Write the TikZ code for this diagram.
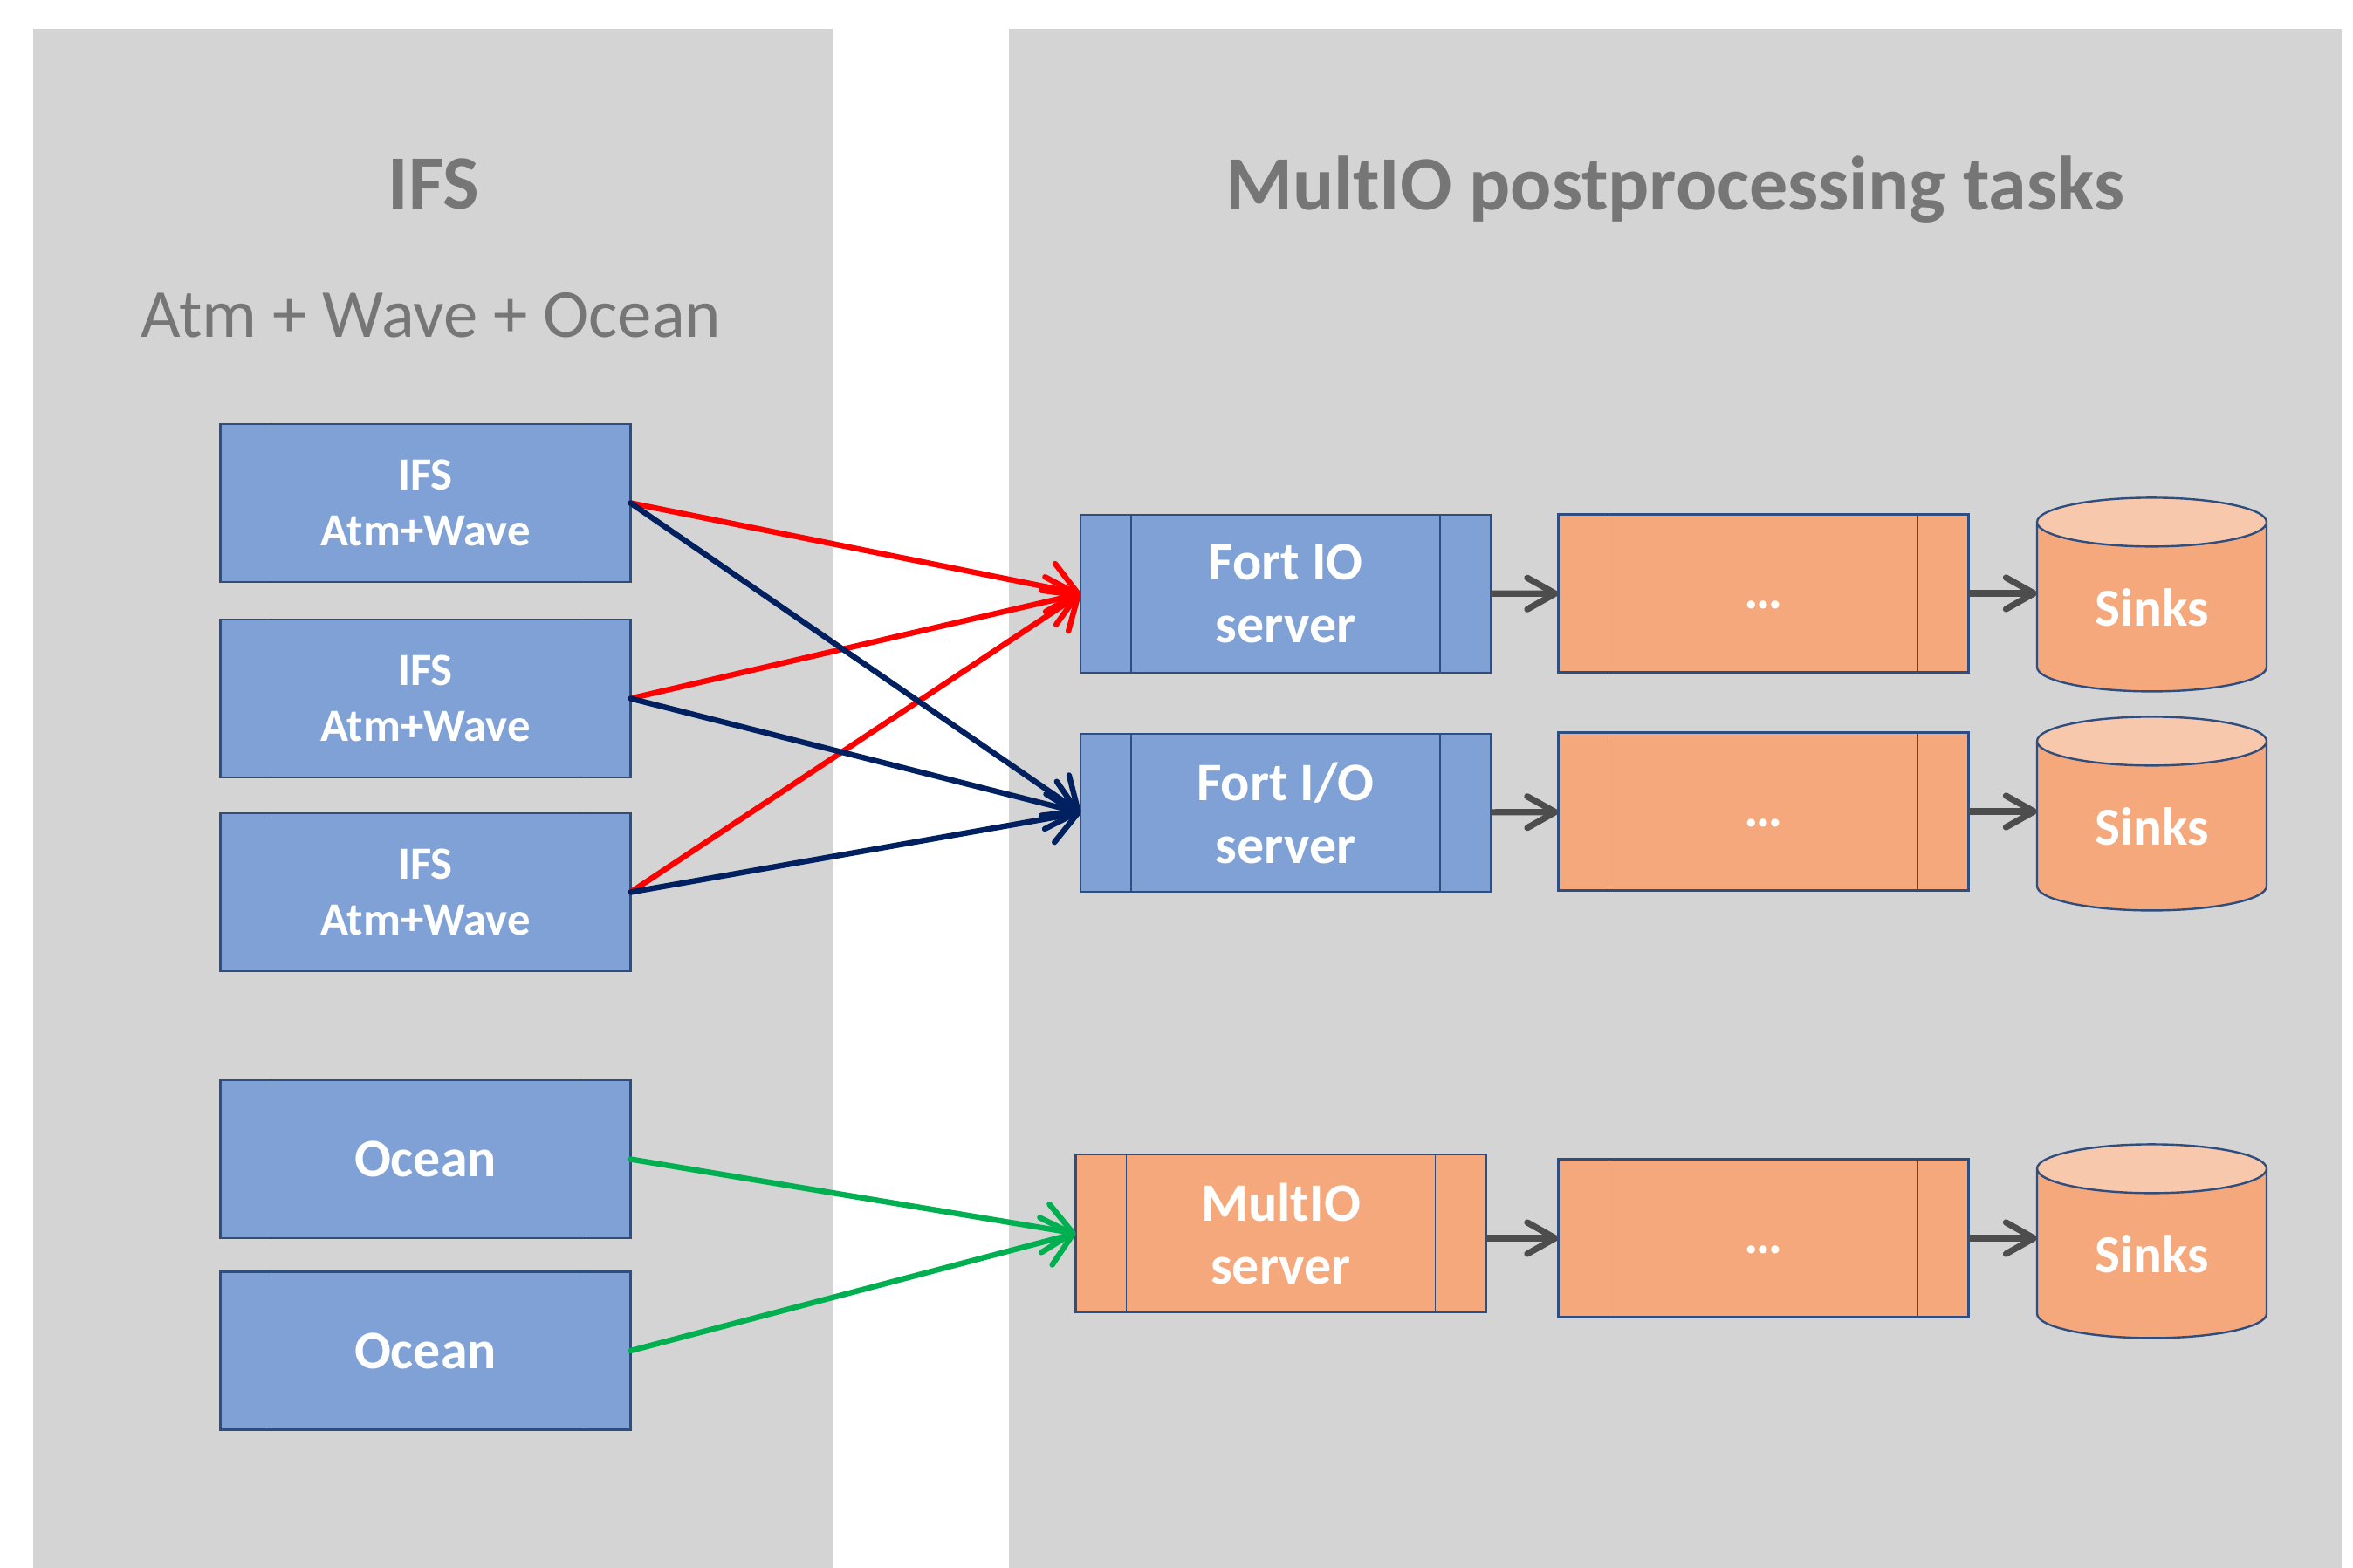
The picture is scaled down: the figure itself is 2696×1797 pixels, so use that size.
\documentclass[tikz,border=0pt]{standalone}
\usepackage{fontspec}
\setmainfont{Carlito}
\usetikzlibrary{shapes.geometric}
\usetikzlibrary{arrows.meta}
\definecolor{panelgray}{HTML}{D4D4D4}
\definecolor{titlegray}{HTML}{767676}
\definecolor{boxblue}{HTML}{7FA1D6}
\definecolor{boxorange}{HTML}{F4A87B}
\definecolor{sinktop}{HTML}{F8C8AC}
\definecolor{boxedge}{HTML}{2F4E80}
\definecolor{arrowred}{HTML}{FF0000}
\definecolor{arrownavy}{HTML}{002060}
\definecolor{arrowgreen}{HTML}{00B050}
\definecolor{arrowgray}{HTML}{4D4D4D}
\tikzstyle{panel}=[fill=panelgray, draw=none]
\tikzstyle{heading}=[text=titlegray, anchor=base, inner sep=0, font=\fontsize{22}{26}\selectfont\bfseries]
\tikzstyle{subheading}=[heading, font=\fontsize{19.7}{24}\selectfont]
\tikzstyle{procbox}=[draw=boxedge, line width=0.6pt, inner sep=0, outer sep=0,
                     minimum width=117.5pt, minimum height=45.25pt, align=center, text=white,
                     font=\fontsize{15.5}{18}\selectfont\bfseries,
                     % the two side strips of a process box
                     path picture={\draw[boxedge, line width=0.4pt]
                       ([xshift=14.5pt]path picture bounding box.north west) -- ([xshift=14.5pt]path picture bounding box.south west)
                       ([xshift=-14.5pt]path picture bounding box.north east) -- ([xshift=-14.5pt]path picture bounding box.south east);}]
\tikzstyle{ifsbox}=[procbox, fill=boxblue, font=\fontsize{13.2}{16}\selectfont\bfseries]
\tikzstyle{serverbox}=[procbox, fill=boxblue]
\tikzstyle{taskbox}=[procbox, fill=boxorange]
\tikzstyle{sink}=[cylinder, shape border rotate=90, aspect=0.43, draw=boxedge, line width=0.6pt,
                  cylinder uses custom fill, cylinder body fill=boxorange, cylinder end fill=sinktop,
                  minimum width=65.75pt, minimum height=55.5pt, inner sep=0, outer sep=0,
                  text=white, font=\fontsize{15.3}{18}\selectfont\bfseries]
\tikzstyle{feed}=[-{Straight Barb[round, length=8pt, width=14pt]}, line width=1.6pt, line cap=round]
\tikzstyle{pipe}=[-{Straight Barb[round, length=8pt, width=9pt]}, line width=1.8pt, draw=arrowgray]
\tikzstyle{postprocessing}=[x=0.25pt, y=-0.25pt]
\newcommand{\moredots}{\raisebox{-4.25pt}[0pt][0pt]{…}}

\begin{document}
\begin{tikzpicture}[postprocessing]
        \useasboundingbox (0,0) rectangle (2696,1797);
        \path[panel] (38,33) rectangle (954,1797);
        \path[panel] (1156,33) rectangle (2683,1797);
        \node[heading] (ifstitle) at (497,240) {IFS};
        \node[subheading] (ifssub) at (494,387) {Atm + Wave + Ocean};
        \node[heading] (multiotitle) at (1919,241) {MultIO postprocessing tasks};
        % model tasks
        \node[ifsbox] (ifs1) at (487.5,576.5) {IFS\\Atm+Wave};
        \node[ifsbox] (ifs2) at (487.5,800.5) {IFS\\Atm+Wave};
        \node[ifsbox] (ifs3) at (487.5,1022.5) {IFS\\Atm+Wave};
        \node[serverbox] (ocean1) at (487.5,1328.5) {Ocean};
        \node[serverbox] (ocean2) at (487.5,1548) {Ocean};
        % servers
        \node[serverbox] (fortio) at (1473,680.5) {Fort IO\\server};
        \node[serverbox] (fortslashio) at (1473,931.5) {Fort I/O\\server};
        \node[taskbox] (multio) at (1467.5,1413.5) {MultIO\\server};
        \node[taskbox] (dots1) at (2020.5,680) {\moredots};
        \node[taskbox] (dots2) at (2020.5,930) {\moredots};
        \node[taskbox] (dots3) at (2020.5,1419) {\moredots};
        \node[sink] (sink1) at (2465.5,696) {Sinks};
        \node[sink] (sink2) at (2465.5,947) {Sinks};
        \node[sink] (sink3) at (2465.5,1437) {Sinks};
        % model to server
        \draw[feed, arrowred] (ifs1.east) -- (fortio.west);
        \draw[feed, arrowred] (ifs2.east) -- (fortio.west);
        \draw[feed, arrowred] (ifs3.east) -- (fortio.west);
        \draw[feed, arrownavy] (ifs1.east) -- (fortslashio.west);
        \draw[feed, arrownavy] (ifs2.east) -- (fortslashio.west);
        \draw[feed, arrownavy] (ifs3.east) -- (fortslashio.west);
        \draw[feed, arrowgreen] (ocean1.east) -- (multio.west);
        \draw[feed, arrowgreen] (ocean2.east) -- (multio.west);
        % server to sinks
        \draw[pipe] (fortio) -- (dots1);
        \draw[pipe] (dots1) -- (sink1.west |- dots1);
        \draw[pipe] (fortslashio) -- (dots2);
        \draw[pipe] (dots2) -- (sink2.west |- dots2);
        \draw[pipe] (multio.east |- dots3) -- (dots3);
        \draw[pipe] (dots3) -- (sink3.west |- dots3);
\end{tikzpicture}
\end{document}
